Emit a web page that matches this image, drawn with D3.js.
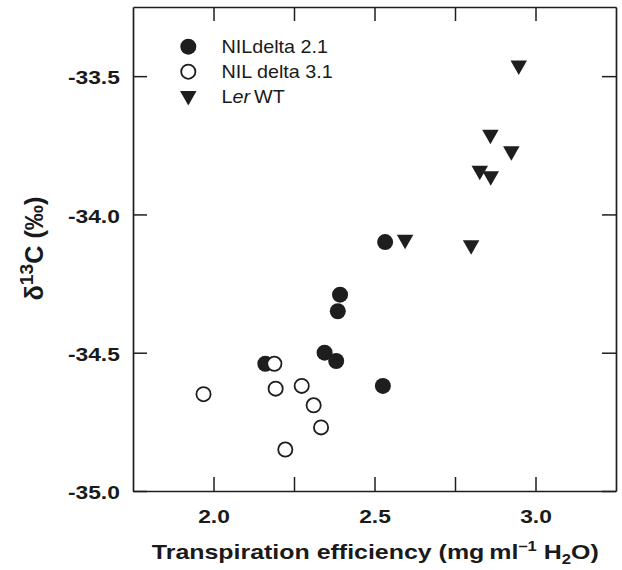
<!DOCTYPE html>
<html>
<head>
<meta charset="utf-8">
<script src="https://cdn.jsdelivr.net/npm/d3@7"></script>
<style>
  html, body { margin: 0; padding: 0; background: #fff; }
  svg { display: block; }
  text { font-family: "Liberation Sans", Arial, Helvetica, sans-serif; fill: #1a1a1a; }
</style>
</head>
<body>
<svg id="chart" width="622" height="570"></svg>
<script>
// ---------------- data ----------------
const seriesNames = ["NILdelta 2.1", "NIL delta 3.1", "Ler WT"];
const nil21X = [2.533, 2.393, 2.386, 2.345, 2.381, 2.161, 2.526];
const nil21Y = [-34.10, -34.29, -34.35, -34.50, -34.53, -34.54, -34.62];
const nil31X = [2.189, 1.969, 2.193, 2.274, 2.311, 2.334, 2.223];
const nil31Y = [-34.54, -34.65, -34.63, -34.62, -34.69, -34.77, -34.85];
const lerX = [2.595, 2.800, 2.827, 2.861, 2.860, 2.925, 2.948];
const lerY = [-34.10, -34.12, -33.85, -33.87, -33.72, -33.78, -33.47];
const xTicks = [2.0, 2.25, 2.5, 2.75, 3.0];
const xTickLabels = ["2.0", "", "2.5", "", "3.0"];
const yTicks = [-35.0, -34.5, -34.0, -33.5];
const yTickLabels = ["-35.0", "-34.5", "-34.0", "-33.5"];
const xDomain = [1.75, 3.25];
const yDomain = [-35.0, -33.25];

// ---------------- layout ----------------
const L = 133, R = 616, T = 7, B = 491;
const ink = "#1e1e1e";
const svg = d3.select("#chart");
const x = d3.scaleLinear().domain(xDomain).range([L, R]);
const y = d3.scaleLinear().domain(yDomain).range([B, T]);
const tickLen = 14, stretch = 1.2;

function styleAxis(g) {
  g.selectAll("path.domain").attr("stroke", ink).attr("stroke-width", 1.7);
  g.selectAll(".tick line").attr("stroke", ink).attr("stroke-width", 1.5);
  g.selectAll(".tick text")
    .attr("font-size", 19).attr("font-weight", "bold").attr("fill", ink)
    .attr("font-family", "'Liberation Sans', Arial, sans-serif");
}

// bottom
const gb = svg.append("g").attr("transform", `translate(0,${B})`)
  .call(d3.axisBottom(x).tickValues(xTicks).tickSizeInner(-tickLen).tickSizeOuter(0)
    .tickPadding(19).tickFormat((d, i) => xTickLabels[i]));
styleAxis(gb);
gb.selectAll(".tick text").attr("transform", `scale(${stretch},1)`);

// top
const gt = svg.append("g").attr("transform", `translate(0,${T})`)
  .call(d3.axisTop(x).tickValues(xTicks).tickSizeInner(-tickLen).tickSizeOuter(0).tickFormat(""));
styleAxis(gt);

// left
const gl = svg.append("g").attr("transform", `translate(${L},0)`)
  .call(d3.axisLeft(y).tickValues(yTicks).tickSizeInner(-tickLen).tickSizeOuter(0)
    .tickPadding(11).tickFormat((d, i) => yTickLabels[i]));
styleAxis(gl);
gl.selectAll(".tick text").attr("dy", "0.4em").attr("transform", `scale(${stretch},1)`);

// right
const gr = svg.append("g").attr("transform", `translate(${R},0)`)
  .call(d3.axisRight(y).tickValues(yTicks).tickSizeInner(-tickLen).tickSizeOuter(0).tickFormat(""));
styleAxis(gr);

// ---------------- markers ----------------
const triW = 16.5, triH = 14.5;
const triPath = `M${-triW/2},${-triH/2}L${triW/2},${-triH/2}L0,${triH/2}Z`;

const marks = svg.append("g");
marks.selectAll("circle.s1").data(d3.range(nil21X.length)).join("circle")
  .attr("class", "s1")
  .attr("cx", i => x(nil21X[i])).attr("cy", i => y(nil21Y[i]))
  .attr("r", 8).attr("fill", ink);
marks.selectAll("circle.s2").data(d3.range(nil31X.length)).join("circle")
  .attr("class", "s2")
  .attr("cx", i => x(nil31X[i])).attr("cy", i => y(nil31Y[i]))
  .attr("r", 7.1).attr("fill", "#fff").attr("stroke", ink).attr("stroke-width", 1.8);
marks.selectAll("path.s3").data(d3.range(lerX.length)).join("path")
  .attr("class", "s3")
  .attr("transform", i => `translate(${x(lerX[i])},${y(lerY[i])})`)
  .attr("d", triPath).attr("fill", ink);

// ---------------- legend ----------------
const leg = svg.append("g");
const legMX = 188.3, legTX = 221.5;
const legY = [46.7, 71.7, 98.3];
const legBase = [53.3, 78.3, 103.3];
leg.append("circle").attr("cx", legMX).attr("cy", legY[0]).attr("r", 8).attr("fill", ink);
leg.append("circle").attr("cx", legMX).attr("cy", legY[1]).attr("r", 7.1)
  .attr("fill", "#fff").attr("stroke", ink).attr("stroke-width", 1.8);
leg.append("path").attr("transform", `translate(${legMX},${legY[2]})`).attr("d", triPath).attr("fill", ink);
function legText(i) {
  return leg.append("text").attr("transform", `translate(${legTX},${legBase[i]}) scale(1.04,1)`)
    .attr("font-size", 19).attr("fill", ink);
}
legText(0).text(seriesNames[0]);
legText(1).text(seriesNames[1]);
const t3 = legText(2);
t3.append("tspan").text("L");
t3.append("tspan").attr("font-style", "italic").text("er");
t3.append("tspan").text("\u2009WT");

// ---------------- axis titles ----------------
const xt = svg.append("text")
  .attr("text-anchor", "middle").attr("font-size", 21).attr("font-weight", "bold").attr("fill", ink);
xt.append("tspan").text("Transpiration efficiency (mg\u2009ml");
xt.append("tspan").attr("font-size", 14).attr("dy", -8).text("\u20131");
xt.append("tspan").attr("dy", 8).text(" H");
xt.append("tspan").attr("font-size", 14).attr("dy", 5).text("2");
xt.append("tspan").attr("dy", -5).text("O)");
{
  const w = xt.node().getBBox().width;
  const s = 447 / w;
  xt.attr("transform", `translate(375.3,558.5) scale(${s},1)`);
}

const yt = svg.append("text")
  .attr("text-anchor", "middle").attr("font-size", 25).attr("font-weight", "bold").attr("fill", ink);
yt.append("tspan").text("\u03b4");
yt.append("tspan").attr("font-size", 19).attr("dy", -10).text("13");
yt.append("tspan").attr("dy", 10).text("C (\u2030)");
{
  const w = yt.node().getBBox().width;
  const s = 104 / w;
  yt.attr("transform", `translate(43,248.5) rotate(-90) scale(${s},1)`);
}
</script>
</body>
</html>
